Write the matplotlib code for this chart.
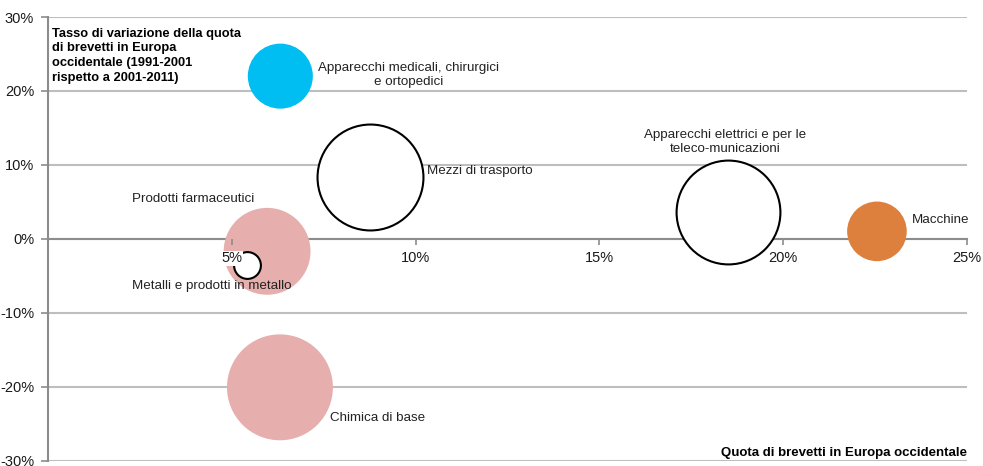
import matplotlib
matplotlib.use("Agg")
import matplotlib.pyplot as plt
from matplotlib.ticker import FuncFormatter

plt.rcParams['font.family'] = ['Liberation Sans', 'DejaVu Sans']

# Data
sectors = ['Apparecchi medicali, chirurgici\ne ortopedici',
           'Mezzi di trasporto',
           'Apparecchi elettrici e per le\nteleco-municazioni',
           'Macchine',
           'Prodotti farmaceutici',
           'Metalli e prodotti in metallo',
           'Chimica di base']
quota = [6.32, 8.77, 18.5, 22.55, 5.96, 5.41, 6.31]          # x, %
variazione = [22.0, 8.4, 3.6, 1.0, -1.7, -3.6, -20.1]        # y, %
bubble_size = [10.6, 28.1, 27.0, 8.9, 18.9, 1.8, 28.1]       # relative area

x_ticks = [5, 10, 15, 20, 25]
y_ticks = [-30, -20, -10, 0, 10, 20, 30]

# styles
face = ['#00BEF2', 'white', 'white', '#DD803E', '#E6AFAE', 'white', '#E6AFAE']
edge = ['none', 'black', 'black', 'none', 'none', 'black', 'none']
# label offsets (pixels) from bubble centre, alignment
label_pos = [(128, 1, 'center'), (57, 6, 'left'), (-3, 70, 'center'),
             (35, 11, 'left'), (-135, 52, 'left'), (-115, -21, 'left'),
             (50, -31, 'left')]

fig = plt.figure(figsize=(9.83, 4.66), dpi=100)
ax = fig.add_axes([48 / 983, 5.5 / 466, 919 / 983, 443.5 / 466])

ax.set_xlim(0, 25)
ax.set_ylim(-30, 30)

for i in range(len(sectors)):
    ax.scatter(quota[i], variazione[i], s=bubble_size[i] * 207, c=face[i],
               edgecolors=edge[i], linewidths=1.5, zorder=2)
    dx, dy, ha = label_pos[i]
    ax.annotate(sectors[i], (quota[i], variazione[i]), xytext=(dx, dy),
                textcoords='offset pixels', ha=ha, va='center', fontsize=9.6,
                color='#222222', multialignment='center', zorder=3)

# axes styling
ax.spines['top'].set_visible(False)
ax.spines['right'].set_visible(False)
ax.spines['bottom'].set_position(('data', 0))
for s in ('bottom', 'left'):
    ax.spines[s].set_color('#8C8C8C')
    ax.spines[s].set_linewidth(1.5)
    ax.spines[s].set_zorder(1)

ax.set_yticks(y_ticks)
ax.set_xticks(x_ticks)
pct = FuncFormatter(lambda v, p: f'{v:.0f}%')
ax.xaxis.set_major_formatter(pct)
ax.yaxis.set_major_formatter(pct)

ax.set_axisbelow(True)
ax.grid(axis='y', color='#BEBEBE', linewidth=1.5)
ax.xaxis.set_zorder(5)

ax.tick_params(axis='both', colors='#8C8C8C', labelcolor='#1A1A1A',
               labelsize=10.5, width=1.2, length=4)
ax.tick_params(axis='x', pad=5)
ax.tick_params(axis='y', pad=5, length=5)
for lbl in ax.get_xticklabels():
    lbl.set_bbox(dict(facecolor='white', edgecolor='none', pad=0.5))

ax.text(4 / 919, 0.976, 'Tasso di variazione della quota\ndi brevetti in Europa\n'
        'occidentale (1991-2001\nrispetto a 2001-2011)',
        transform=ax.transAxes, ha='left', va='top', fontsize=9.3,
        fontweight='bold', linespacing=1.3, color='black')
ax.text(1.0, 0.018, 'Quota di brevetti in Europa occidentale',
        transform=ax.transAxes, ha='right', va='center', fontsize=9.5,
        fontweight='bold', color='black')

fig.savefig('out.png', dpi=100)
